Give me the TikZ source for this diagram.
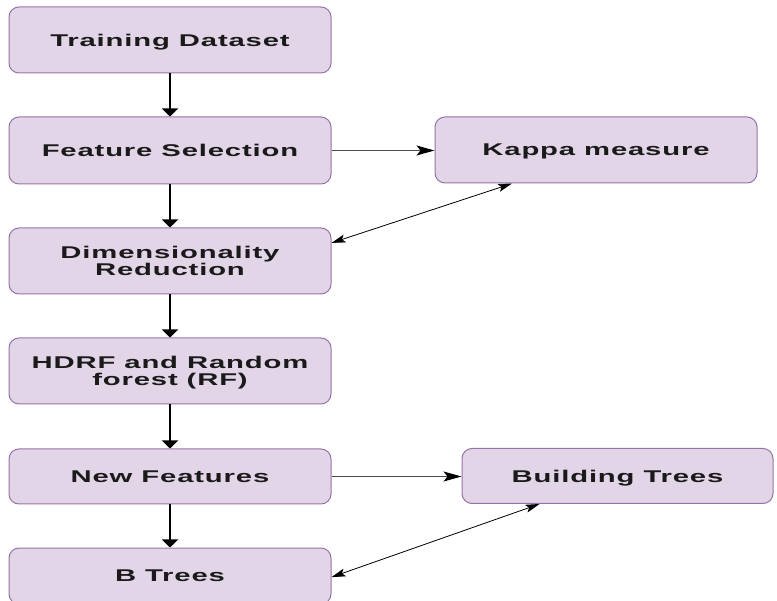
\documentclass[tikz,border=0pt]{standalone}
\usepackage{fontspec}
\usetikzlibrary{arrows.meta,calc}
\newfontfamily\boxfont[FakeStretch=1.72,LetterSpace=5]{Liberation Sans}
\definecolor{boxfill}{HTML}{E1D5E7}
\definecolor{boxline}{HTML}{9673A6}
\definecolor{txt}{HTML}{1A1A1A}
\begin{document}
\begin{tikzpicture}[x=1pt,y=-1pt,
  stepbox/.style={draw=boxline,fill=boxfill,line width=1pt,rounded corners=10pt,
    minimum width=322pt,minimum height=66pt,align=center,inner sep=0pt,text depth=0pt,
    text=txt,font=\boxfont\bfseries\fontsize{17}{16.5}\selectfont},
  varrow/.style={line width=1.8pt,-{Triangle[width=16pt,length=8pt]}},
  harrow/.style={line width=1pt,draw=black!70,-{Stealth[width=10pt,length=18pt,inset=4pt,color=black,fill=black]}},
  darrow/.style={line width=0.8pt,{Stealth[width=8pt,length=14pt,inset=3pt]}-{Stealth[width=8pt,length=14pt,inset=3pt]}}
]
\useasboundingbox (0,0) rectangle (777,601);
\clip (0,0) rectangle (777,601);
\node[stepbox] (td) at (170,40) {Training Dataset};
\node[stepbox,minimum height=67pt] (fs) at (170,150.5) {Feature Selection};
\node[stepbox] (km) at (596,150) {Kappa measure};
\node[stepbox] (dr) at (170,261) {Dimensionality\\Reduction};
\node[stepbox] (hd) at (170,371) {HDRF and Random\\forest (RF)};
\node[stepbox,minimum height=55pt] (nf) at (170,476.5) {New Features};
\node[stepbox,minimum height=55pt,minimum width=311pt] (bt) at (617.5,476) {Building Trees};
\node[stepbox,minimum height=56pt] (bts) at (170,576) {B Trees};
\draw[varrow] (td) -- (fs);
\draw[varrow] (fs) -- (dr);
\draw[varrow] (dr) -- (hd);
\draw[varrow] (hd) -- (nf);
\draw[varrow] (nf) -- (bts);
\draw[harrow] (fs.east) -- (fs.east -| km.west);
\draw[harrow] (nf.east) -- (nf.east -| bt.west);
\draw[darrow] ($(dr.north east)!0.23!(dr.south east)$) -- ($(km.south west)!0.24!(km.south east)$);
\draw[darrow] ($(bts.north east)!0.52!(bts.south east)$) -- ($(bt.south west)!0.25!(bt.south east)$);
\end{tikzpicture}
\end{document}
